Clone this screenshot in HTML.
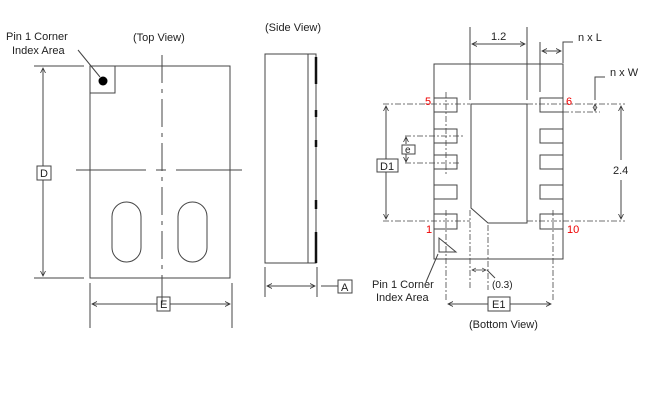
<!DOCTYPE html>
<html><head><style>body{margin:0;background:#fff}svg{display:block}text{font-family:"Liberation Sans",sans-serif;font-size:11px;fill:#222}</style></head><body>
<svg width="650" height="400" viewBox="0 0 650 400" xmlns="http://www.w3.org/2000/svg">
<defs>
<marker id="a" markerWidth="6" markerHeight="6" refX="5" refY="3" orient="auto-start-reverse"><path d="M0,0.5 L5,3 L0,5.5" fill="none" stroke="#333" stroke-width="0.8"/></marker>
</defs>
<g stroke="#444" stroke-width="1" fill="none">
<!-- Top view -->
<rect x="90" y="66" width="140" height="212"/>
<rect x="90" y="66" width="25" height="27"/>
<line x1="162" y1="55" x2="162" y2="306" stroke-dasharray="28,6,4,6"/>
<line x1="76" y1="170" x2="146" y2="170"/><line x1="156" y1="170" x2="166" y2="170"/><line x1="176" y1="170" x2="242" y2="170"/>
<rect x="112" y="202" width="29" height="60" rx="14.5"/>
<rect x="178" y="202" width="29" height="60" rx="14.5"/>
<line x1="78" y1="50" x2="100" y2="77"/>
<line x1="34" y1="66" x2="84" y2="66"/><line x1="34" y1="278" x2="84" y2="278"/>
<line x1="43" y1="68" x2="43" y2="166" marker-start="url(#a)"/><line x1="43" y1="180" x2="43" y2="276" marker-end="url(#a)"/>
<rect x="37" y="166" width="14" height="14"/>
<line x1="90" y1="283" x2="90" y2="328"/><line x1="232" y1="283" x2="232" y2="328"/>
<line x1="92" y1="304" x2="157" y2="304" marker-start="url(#a)"/><line x1="170" y1="304" x2="230" y2="304" marker-end="url(#a)"/>
<rect x="157" y="297" width="13" height="14"/>
<!-- Side view -->
<rect x="265" y="54" width="51" height="209"/>
<line x1="308" y1="54" x2="308" y2="263"/>
<g stroke="#111" stroke-width="2.5"><line x1="316" y1="57" x2="316" y2="84"/><line x1="316" y1="110" x2="316" y2="117"/><line x1="316" y1="140" x2="316" y2="147"/><line x1="316" y1="200" x2="316" y2="209"/><line x1="316" y1="232" x2="316" y2="263"/></g>
<line x1="265" y1="267" x2="265" y2="297"/><line x1="317" y1="267" x2="317" y2="297"/>
<line x1="267" y1="286" x2="315" y2="286" marker-start="url(#a)" marker-end="url(#a)"/>
<line x1="321" y1="286" x2="338" y2="286"/>
<rect x="338" y="280" width="14" height="13"/>
<!-- Bottom view -->
<rect x="434" y="64" width="129" height="195"/>
<g>
<rect x="434" y="98" width="23" height="14"/><rect x="434" y="129" width="23" height="14"/><rect x="434" y="155" width="23" height="14"/><rect x="434" y="185" width="23" height="14"/><rect x="434" y="214" width="23" height="15"/>
<rect x="540" y="98" width="23" height="14"/><rect x="540" y="129" width="23" height="14"/><rect x="540" y="155" width="23" height="14"/><rect x="540" y="185" width="23" height="14"/><rect x="540" y="214" width="23" height="15"/>
</g>
<path d="M471,104 H527 V223 H488 L471,208 Z"/>
<g stroke-dasharray="6,2,2,2" stroke-width="0.8">
<line x1="383" y1="104" x2="470" y2="104"/><line x1="527" y1="104" x2="625" y2="104"/>
<line x1="383" y1="221" x2="470" y2="221"/><line x1="527" y1="221" x2="625" y2="221"/>
<line x1="405" y1="136" x2="463" y2="136"/><line x1="405" y1="163" x2="460" y2="163"/>
<line x1="446" y1="92" x2="446" y2="176"/><line x1="446" y1="210" x2="446" y2="300"/><line x1="553" y1="210" x2="553" y2="300"/>
<line x1="470" y1="210" x2="470" y2="290"/><line x1="488" y1="225" x2="488" y2="290"/>
<line x1="563" y1="112" x2="600" y2="112"/>
</g>
<line x1="470" y1="27" x2="470" y2="100"/><line x1="527" y1="27" x2="527" y2="100"/>
<line x1="472" y1="44" x2="525" y2="44" marker-start="url(#a)" marker-end="url(#a)"/>
<line x1="540" y1="42" x2="540" y2="92"/>
<line x1="542" y1="51" x2="561" y2="51" marker-start="url(#a)" marker-end="url(#a)"/>
<polyline points="563,63 563,42 573,42"/>
<polyline points="595,100 595,77 605,77"/>
<line x1="595" y1="104" x2="595" y2="111" marker-start="url(#a)" marker-end="url(#a)" stroke-width="0.8"/>
<line x1="621" y1="106" x2="621" y2="160" marker-start="url(#a)"/><line x1="621" y1="180" x2="621" y2="219" marker-end="url(#a)"/>
<line x1="386" y1="106" x2="386" y2="159" marker-start="url(#a)"/><line x1="386" y1="172" x2="386" y2="219" marker-end="url(#a)"/>
<rect x="377" y="159" width="21" height="13"/>
<line x1="406" y1="137" x2="406" y2="144" marker-start="url(#a)"/><line x1="406" y1="154" x2="406" y2="162" marker-end="url(#a)"/>
<rect x="402" y="145" width="13" height="9"/>
<path d="M439,238 L439,252 L456,252 Z"/>
<line x1="438" y1="254" x2="426" y2="282"/>
<line x1="472" y1="270" x2="486" y2="270" marker-start="url(#a)" marker-end="url(#a)" stroke-width="0.8"/>
<line x1="487" y1="270" x2="495" y2="278"/>
<line x1="448" y1="304" x2="488" y2="304" marker-start="url(#a)"/><line x1="510" y1="304" x2="551" y2="304" marker-end="url(#a)"/>
<rect x="488" y="297" width="22" height="14"/>
</g>
<circle cx="103" cy="81" r="4.5" fill="#000"/>
<text x="6" y="40">Pin 1 Corner</text><text x="12" y="54">Index Area</text>
<text x="133" y="41">(Top View)</text>
<text x="265" y="31">(Side View)</text>
<text x="40" y="177">D</text><text x="160" y="308">E</text><text x="341" y="291">A</text>
<text x="491" y="40">1.2</text><text x="578" y="41">n x L</text><text x="610" y="76">n x W</text>
<text x="613" y="174">2.4</text><text x="380" y="170">D1</text><text x="405" y="153" style="font-size:10px">e</text>
<text x="492" y="288" style="font-size:10px">(0.3)</text><text x="492" y="308">E1</text>
<text x="372" y="288">Pin 1 Corner</text><text x="376" y="301">Index Area</text>
<text x="469" y="328">(Bottom View)</text>
<text x="425" y="105" style="fill:#e00">5</text><text x="566" y="105" style="fill:#e00">6</text>
<text x="426" y="233" style="fill:#e00">1</text><text x="567" y="233" style="fill:#e00">10</text>
</svg>
</body></html>
